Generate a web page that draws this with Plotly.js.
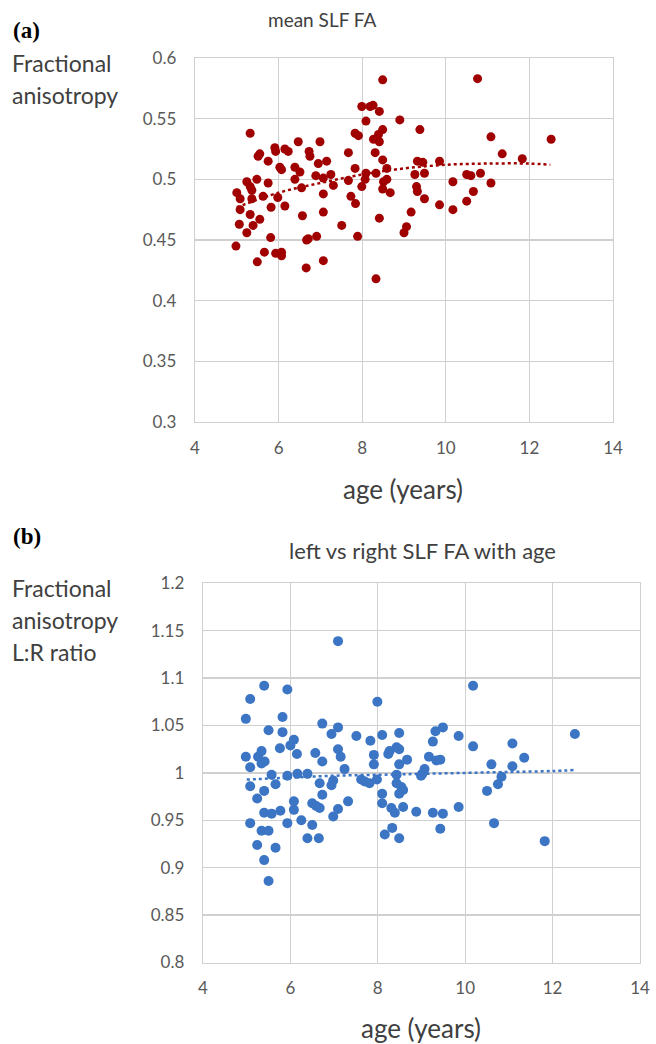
<!DOCTYPE html>
<html>
<head>
<meta charset="utf-8">
<script src="https://cdn.plot.ly/plotly-3.0.1.min.js"></script>
<style>html,body{margin:0;padding:0;background:#fff;}#chart{width:656px;height:1044px;}</style>
</head>
<body>
<div id="chart"></div>
<script>
// Panel (a): mean SLF FA vs age
const ageA = [5.32,5.51,5.55,5.75,5.91,5.93,6.15,6.23,6.03,6.07,
  6.47,5.24,5.32,5.48,5.75,5.36,5.00,5.08,5.36,5.63,
  5.98,5.08,5.82,6.15,5.32,5.55,5.39,5.06,5.24,5.81,
  4.98,5.66,5.93,6.07,6.07,5.49,6.57,6.39,6.51,6.39,
  6.55,7.99,8.19,8.26,8.41,8.09,8.90,7.83,7.91,8.49,
  8.39,8.27,8.41,6.99,6.73,6.75,7.67,8.31,8.49,6.95,
  7.15,6.89,7.07,7.25,7.31,7.07,7.83,7.67,8.09,8.07,
  8.33,8.59,7.99,8.51,8.59,8.49,8.67,7.73,7.84,9.26,
  9.30,9.38,7.07,9.17,7.51,8.41,9.06,9.00,6.67,6.71,
  6.91,7.89,6.66,7.07,8.33,10.76,11.08,12.52,11.35,11.83,
  9.32,9.45,9.85,9.49,10.17,10.50,10.60,10.83,11.08,9.49,
  10.66,9.85,10.50,10.17,8.49,9.32];
const faA = [0.538,0.519,0.521,0.515,0.526,0.523,0.525,0.523,0.510,0.508,
  0.531,0.498,0.494,0.500,0.497,0.491,0.489,0.484,0.484,0.486,
  0.485,0.475,0.477,0.478,0.471,0.467,0.462,0.463,0.456,0.452,
  0.445,0.440,0.439,0.440,0.437,0.432,0.470,0.510,0.506,0.500,
  0.493,0.560,0.560,0.561,0.556,0.548,0.549,0.538,0.536,0.541,
  0.537,0.533,0.531,0.531,0.523,0.519,0.522,0.522,0.516,0.513,
  0.515,0.503,0.501,0.504,0.495,0.488,0.509,0.499,0.505,0.500,
  0.505,0.509,0.494,0.498,0.500,0.492,0.489,0.486,0.480,0.504,
  0.494,0.541,0.473,0.473,0.462,0.468,0.461,0.456,0.450,0.451,
  0.453,0.453,0.427,0.433,0.418,0.583,0.535,0.533,0.521,0.517,
  0.515,0.514,0.515,0.505,0.498,0.504,0.503,0.505,0.497,0.484,
  0.490,0.479,0.482,0.475,0.582,0.490];
const trendAgeA = [5.0,6,7,8,9,10,11,12,12.5];
const trendFAA  = [0.477,0.489,0.497,0.504,0.509,0.512,0.513,0.513,0.512];

// Panel (b): L:R FA ratio vs age
const ageB = [5.40,5.93,5.08,4.98,5.82,5.50,5.82,6.08,6.00,5.76,
  6.15,4.98,5.34,5.26,5.41,5.34,5.08,5.57,5.93,6.16,
  6.39,5.08,5.66,5.40,5.24,6.08,6.08,5.40,5.57,5.77,
  5.93,6.25,5.08,5.34,5.50,5.24,5.66,5.40,5.50,6.39,
  7.09,7.99,6.73,7.09,6.94,7.51,7.83,8.10,8.49,6.57,
  6.73,7.09,7.15,7.24,7.91,7.91,8.27,8.24,8.43,8.49,
  8.49,8.67,6.67,6.98,6.94,7.62,7.70,7.81,7.98,8.43,
  8.43,8.54,8.58,8.49,6.73,8.10,8.10,6.50,6.59,6.67,
  7.32,7.09,6.98,8.31,8.39,8.58,8.88,6.50,6.65,8.33,
  8.16,8.49,
  10.18,12.51,9.49,9.32,9.26,9.85,10.18,11.08,11.35,9.17,
  9.34,9.43,10.60,11.08,9.07,9.02,8.99,10.83,10.75,10.50,
  9.85,9.26,9.49,9.43,10.66,11.82];
const ratioB = [1.092,1.088,1.078,1.057,1.059,1.045,1.043,1.035,1.029,1.026,
  1.020,1.017,1.023,1.017,1.012,1.010,1.006,0.998,0.997,0.999,
  0.999,0.986,0.988,0.981,0.973,0.970,0.961,0.958,0.957,0.960,
  0.947,0.950,0.947,0.939,0.939,0.924,0.921,0.908,0.886,0.931,
  1.139,1.075,1.052,1.048,1.041,1.039,1.034,1.040,1.042,1.021,
  1.012,1.025,1.017,1.004,1.019,1.009,1.023,1.020,1.027,1.025,
  1.009,1.014,0.989,0.992,0.987,0.993,0.991,0.989,0.993,0.998,
  0.989,0.985,0.982,0.978,0.977,0.978,0.968,0.968,0.965,0.963,
  0.970,0.962,0.954,0.963,0.958,0.964,0.959,0.945,0.931,0.942,
  0.935,0.931,
  1.092,1.041,1.048,1.044,1.033,1.039,1.028,1.031,1.016,1.017,
  1.013,1.014,1.009,1.007,1.004,0.999,0.997,0.996,0.988,0.981,
  0.964,0.958,0.957,0.941,0.947,0.928];
const trendAgeB = [5.0,6,7,8,9,10,11,12,12.5];
const trendRatioB = [0.993,0.995,0.997,0.998,0.999,1.000,1.001,1.002,1.003];

const xTicks = [4,6,8,10,12,14];
const yTicksA = [0.3,0.35,0.4,0.45,0.5,0.55,0.6];
const yTicksB = [0.8,0.85,0.9,0.95,1,1.05,1.1,1.15,1.2];

const W = 656, H = 1044;
const px = x => x / W;
const py = y => 1 - y / H;

const redC = '#a00000';
const blueC = '#3b75c4';
const gridC = '#d0d0d0';
const fam = 'Lato, "Open Sans", sans-serif';
const tickFont = {family: fam, size: 17, color: '#595959'};
const labFont = {family: fam, size: 23, color: '#404040'};

const data = [
  {x: ageA, y: faA, type: 'scatter', mode: 'markers', xaxis: 'x', yaxis: 'y',
   marker: {color: redC, size: 9}, hoverinfo: 'none'},
  {x: trendAgeA, y: trendFAA, type: 'scatter', mode: 'lines', xaxis: 'x', yaxis: 'y',
   line: {color: redC, width: 2.5, dash: 'dot', shape: 'spline'}, hoverinfo: 'none'},
  {x: ageB, y: ratioB, type: 'scatter', mode: 'markers', xaxis: 'x2', yaxis: 'y2',
   marker: {color: blueC, size: 10}, hoverinfo: 'none'},
  {x: trendAgeB, y: trendRatioB, type: 'scatter', mode: 'lines', xaxis: 'x2', yaxis: 'y2',
   line: {color: blueC, width: 2.5, dash: 'dot', shape: 'spline'}, hoverinfo: 'none'}
];

function xax(domain, anchor) {
  return {domain: domain, anchor: anchor, range: [4,14], tickvals: xTicks,
    showgrid: true, gridcolor: gridC, gridwidth: 1.3, zeroline: false,
    showline: true, linecolor: gridC, linewidth: 1.3, mirror: true,
    ticks: '', ticklabelstandoff: 10, tickfont: tickFont, automargin: false};
}
function yax(domain, anchor, range, vals) {
  return {domain: domain, anchor: anchor, range: range, tickvals: vals,
    showgrid: true, gridcolor: gridC, gridwidth: 1.3, zeroline: false,
    showline: true, linecolor: gridC, linewidth: 1.3, mirror: true,
    ticks: '', ticklabelstandoff: 14, tickfont: tickFont, automargin: false};
}
function txt(t, x, y, font, xanchor) {
  return {text: t, xref: 'paper', yref: 'paper', x: px(x), y: py(y),
    xanchor: xanchor || 'left', yanchor: 'middle', showarrow: false, font: font};
}
const serif = {family: '"Liberation Serif", "DejaVu Serif", serif', size: 23, color: '#000'};
const axTitleFont = {family: fam, size: 26, color: '#404040'};

const layout = {
  width: W, height: H,
  margin: {l: 0, r: 0, t: 0, b: 0},
  paper_bgcolor: '#fff', plot_bgcolor: '#fff',
  showlegend: false,
  xaxis: xax([px(195), px(613)], 'y'),
  yaxis: yax([py(422), py(58)], 'x', [0.3, 0.6], yTicksA),
  xaxis2: xax([px(203), px(640)], 'y2'),
  yaxis2: yax([py(962.5), py(583.3)], 'x2', [0.8, 1.2], yTicksB),
  annotations: [
    txt('<b>(a)</b>', 11, 30, serif),
    txt('<b>(b)</b>', 11, 536, serif),
    txt('mean SLF FA', 322, 19, {family: fam, size: 19, color: '#404040'}, 'center'),
    txt('left vs right SLF FA with age', 422, 550, {family: fam, size: 22, color: '#404040'}, 'center'),
    txt('Fractional', 10, 63, labFont),
    txt('anisotropy', 10, 95, labFont),
    txt('Fractional', 10, 588, labFont),
    txt('anisotropy', 10, 620, labFont),
    txt('L:R ratio', 10, 652, labFont),
    txt('age (years)', 403, 489, axTitleFont, 'center'),
    txt('age (years)', 421, 1028, axTitleFont, 'center')
  ]
};

Plotly.newPlot('chart', data, layout, {staticPlot: true, displayModeBar: false});
</script>
</body>
</html>
